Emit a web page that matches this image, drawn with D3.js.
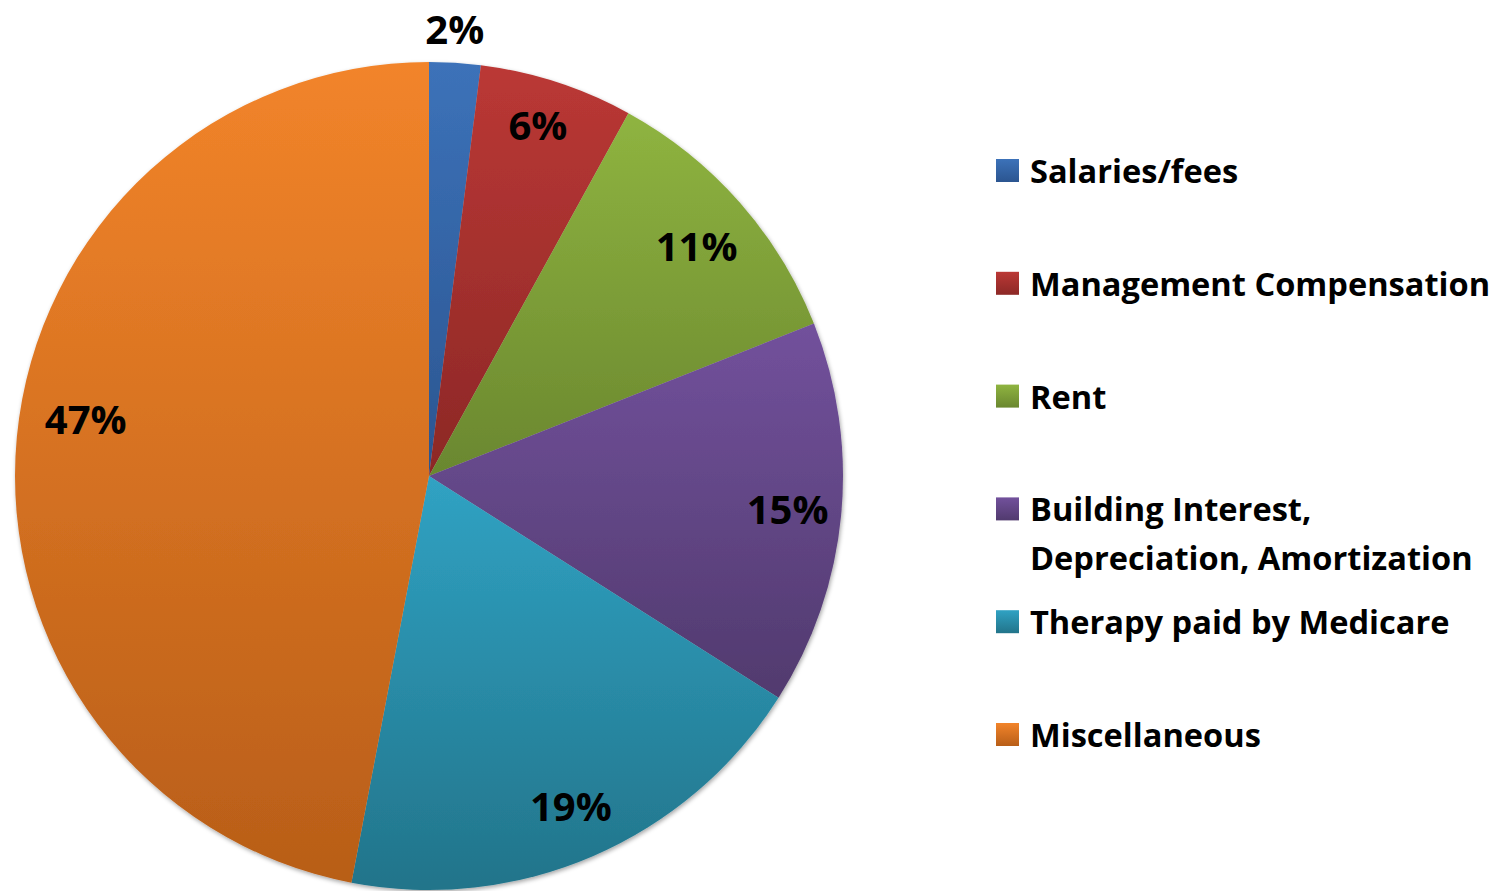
<!DOCTYPE html>
<html>
<head>
<meta charset="utf-8">
<script src="https://cdn.jsdelivr.net/npm/d3@7"></script>
<style>
  body { margin: 0; background: #fff; }
  svg { display: block; }
</style>
</head>
<body>
<div class="chart"></div>
<script>
// chart data
var categories = ["Salaries/fees", "Management Compensation", "Rent",
                  "Building Interest, Depreciation, Amortization",
                  "Therapy paid by Medicare", "Miscellaneous"];
var legendLines = [["Salaries/fees"], ["Management Compensation"], ["Rent"],
                   ["Building Interest,", "Depreciation, Amortization"],
                   ["Therapy paid by Medicare"], ["Miscellaneous"]];
var values = [2, 6, 11, 15, 19, 47];
var topColors = ["#3c72b9", "#bb3835", "#8fb440", "#72519c", "#30a2c3", "#f2842a"];
var bottomColors = ["#2b5590", "#8c2826", "#6a872f", "#513a6e", "#22748a", "#b85e18"];

function init(){
  var w = 1504, h = 891;
  var cx = 429, cy = 476, r = 414;

  var svg = d3.select(".chart")
              .append("svg")
              .attr("width", w)
              .attr("height", h)
              .style("font-family", "'Open Sans', Lato, sans-serif")
              .style("font-weight", "bold");

  var defs = svg.append("defs");
  categories.forEach(function(c, i){
    var g = defs.append("linearGradient")
                .attr("id", "grad" + i)
                .attr("x1", 0).attr("y1", 0)
                .attr("x2", 0).attr("y2", 1);
    g.append("stop").attr("offset", "0%").attr("stop-color", topColors[i]);
    g.append("stop").attr("offset", "100%").attr("stop-color", bottomColors[i]);
  });

  var shadow = defs.append("filter")
                   .attr("id", "shadow")
                   .attr("x", "-5%").attr("y", "-5%")
                   .attr("width", "110%").attr("height", "110%");
  shadow.append("feDropShadow")
        .attr("dx", 1).attr("dy", 2)
        .attr("stdDeviation", 2)
        .attr("flood-color", "#000")
        .attr("flood-opacity", 0.35);

  var pie = d3.pie().sort(null).value(function(d){ return d; });
  var arcs = pie(values);
  var arc = d3.arc().innerRadius(0).outerRadius(r);

  var pieG = svg.append("g")
                .attr("transform", "translate(" + cx + "," + cy + ")");

  pieG.append("g")
      .attr("filter", "url(#shadow)")
    .selectAll("path")
    .data(arcs)
    .join("path")
      .attr("d", arc)
      .attr("fill", function(d, i){ return "url(#grad" + i + ")"; });

  // label placement: fraction of radius along the slice mid-angle (+ small angle nudge, degrees)
  var labelRadius = [1.08, 0.885, 0.85, 0.87, 0.87, 0.84];
  var labelNudge = [-0.3, -0.7, 0.9, 0, 0.2, 3.8];
  function labelPos(d, i){
    var a = (d.startAngle + d.endAngle) / 2 + labelNudge[i] * Math.PI / 180;
    return [Math.sin(a) * r * labelRadius[i], -Math.cos(a) * r * labelRadius[i]];
  }

  pieG.selectAll("text.label")
      .data(arcs)
      .join("text")
        .attr("class", "label")
        .attr("text-anchor", "middle")
        .attr("font-size", 40)
        .attr("fill", "#000")
        .attr("x", function(d, i){ return labelPos(d, i)[0]; })
        .attr("y", function(d, i){ return labelPos(d, i)[1] + 14; })
        .text(function(d){ return d.data + "%"; });

  // legend
  var legendY = d3.scalePoint()
                  .domain(d3.range(categories.length))
                  .range([183, 747]);

  var legend = svg.append("g")
                  .selectAll("g")
                  .data(categories)
                  .join("g")
                    .attr("transform", function(d, i){
                      return "translate(996," + legendY(i) + ")";
                    });

  legend.append("rect")
        .attr("x", 0).attr("y", -24)
        .attr("width", 23).attr("height", 23)
        .attr("fill", function(d, i){ return "url(#grad" + i + ")"; });

  legend.append("text")
        .attr("x", 34)
        .attr("font-size", 32.6)
        .attr("fill", "#000")
        .selectAll("tspan")
        .data(function(d, i){ return legendLines[i]; })
        .join("tspan")
          .attr("x", 34)
          .attr("dy", function(d, j){ return j == 0 ? 0 : 49; })
          .text(function(d){ return d; });
}

window.onload = init;
</script>
</body>
</html>
